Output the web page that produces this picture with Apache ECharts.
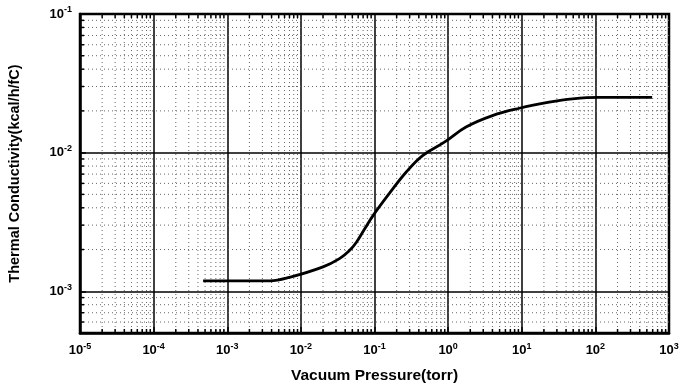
<!DOCTYPE html>
<html>
<head>
<meta charset="utf-8">
<script src="https://cdn.jsdelivr.net/npm/echarts@6/dist/echarts.min.js"></script>
<style>html,body{margin:0;padding:0;background:#fff}#c{width:683px;height:385px}</style>
</head>
<body>
<div id="c"></div>
<script>
// Data (pressure in torr, conductivity in kcal/h/fC)
var pressure = [4.7e-4, 3.8e-3, 7.0e-3, 2.0e-2, 3.35e-2, 4.5e-2, 5.65e-2, 7.3e-2, 9.5e-2, 0.16, 0.27, 0.45, 0.89, 1.75, 4.0, 9.25, 23.6, 49, 112, 590];
var conductivity = [1.19e-3, 1.19e-3, 1.26e-3, 1.50e-3, 1.72e-3, 1.95e-3, 2.25e-3, 2.80e-3, 3.50e-3, 5.10e-3, 7.25e-3, 9.53e-3, 1.19e-2, 1.53e-2, 1.85e-2, 2.09e-2, 2.31e-2, 2.44e-2, 2.50e-2, 2.50e-2];
var xMin = 1e-5, xMax = 1e3, yMin = 5e-4, yMax = 1e-1;

var minorX = [];
for (var k = -5; k < 3; k++) for (var m = 2; m <= 9; m++) minorX.push(m * Math.pow(10, k));
var minorY = [];
for (var k2 = -4; k2 < -1; k2++) for (var m2 = 2; m2 <= 9; m2++) {
  var v = m2 * Math.pow(10, k2);
  if (v > yMin * 1.0001 && v < yMax) minorY.push(v);
}

function isDecade(v) { var l = Math.log10(v); return Math.abs(l - Math.round(l)) < 1e-6; }
function powLabel(v) {
  if (!isDecade(v)) return '';
  return '{b|10}{s|' + Math.round(Math.log10(v)) + '}';
}
var richLab = {
  b: { fontFamily: 'Liberation Sans', fontWeight: 'bold', fontSize: 13, color: '#000' },
  s: { fontFamily: 'Liberation Sans', fontWeight: 'bold', fontSize: 9, color: '#000', verticalAlign: 'bottom', padding: [0, 0, 8, 0] }
};

var chart = echarts.init(document.getElementById('c'));
chart.setOption({
  animation: false,
  backgroundColor: '#fff',
  grid: { left: 80, right: 14, top: 14, bottom: 52, outerBoundsMode: 'none', containLabel: false, show: true, borderColor: '#000', borderWidth: 2.5, backgroundColor: 'transparent' },
  xAxis: {
    type: 'log', logBase: 10, min: xMin, max: xMax, splitNumber: 8,
    name: 'Vacuum Pressure(torr)', nameLocation: 'middle', nameGap: 35,
    nameTextStyle: { fontFamily: 'Liberation Sans', fontWeight: 'bold', fontSize: 15.5, color: '#000' },
    axisLine: { show: true, lineStyle: { color: '#000', width: 2.5 } },
    axisTick: { show: true, inside: true, length: 6, lineStyle: { color: '#000', width: 1.5 } },
    axisLabel: { formatter: powLabel, rich: richLab, margin: 9 },
    splitLine: { show: true, lineStyle: { color: '#000', width: 1.5 } }
  },
  yAxis: {
    type: 'log', logBase: 10, min: yMin, max: yMax,
    name: 'Thermal Conductivity(kcal/h/fC)', nameLocation: 'middle', nameGap: 58,
    nameTextStyle: { fontFamily: 'Liberation Sans', fontWeight: 'bold', fontSize: 14.5, color: '#000' },
    axisLine: { show: true, lineStyle: { color: '#000', width: 2.5 } },
    axisTick: { show: true, inside: true, length: 6, lineStyle: { color: '#000', width: 1.5 } },
    axisLabel: { formatter: powLabel, rich: richLab, margin: 8 },
    splitLine: { show: true, lineStyle: { color: '#000', width: 1.5 } }
  },
  series: [
    {
      type: 'custom', silent: true, z: 1,
      data: minorX.map(function (v) { return [v, yMin]; }),
      renderItem: function (params, api) {
        var p = api.coord([api.value(0), yMin]);
        var cs = params.coordSys;
        return { type: 'group', children: [
          { type: 'line', shape: { x1: p[0], y1: cs.y, x2: p[0], y2: cs.y + cs.height }, style: { stroke: '#666', lineWidth: 1, lineDash: [1, 3] } },
          { type: 'line', shape: { x1: p[0], y1: cs.y + cs.height, x2: p[0], y2: cs.y + cs.height - 4 }, style: { stroke: '#000', lineWidth: 1.5 } },
          { type: 'line', shape: { x1: p[0], y1: cs.y, x2: p[0], y2: cs.y + 4 }, style: { stroke: '#000', lineWidth: 1.5 } }
        ] };
      }
    },
    {
      type: 'custom', silent: true, z: 1,
      data: minorY.map(function (v) { return [xMin, v]; }),
      renderItem: function (params, api) {
        var p = api.coord([xMin, api.value(1)]);
        var cs = params.coordSys;
        return { type: 'group', children: [
          { type: 'line', shape: { x1: cs.x, y1: p[1], x2: cs.x + cs.width, y2: p[1] }, style: { stroke: '#666', lineWidth: 1, lineDash: [1, 3] } },
          { type: 'line', shape: { x1: cs.x, y1: p[1], x2: cs.x + 4, y2: p[1] }, style: { stroke: '#000', lineWidth: 1.5 } }
        ] };
      }
    },
    {
      type: 'line', z: 5,
      data: pressure.map(function (p, i) { return [p, conductivity[i]]; }),
      smooth: 0.4, showSymbol: false, symbol: 'none',
      lineStyle: { color: '#000', width: 2.8 }
    }
  ]
});
</script>
</body>
</html>
